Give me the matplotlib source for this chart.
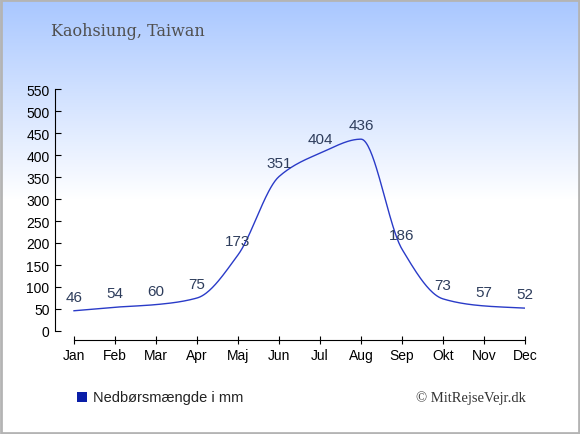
import numpy as np
import matplotlib
matplotlib.use("Agg")
import matplotlib.pyplot as plt

months = ["Jan", "Feb", "Mar", "Apr", "Maj", "Jun", "Jul", "Aug", "Sep", "Okt", "Nov", "Dec"]
rain = [46, 54, 60, 75, 173, 351, 404, 436, 186, 73, 57, 52]
y_ticks = [0, 50, 100, 150, 200, 250, 300, 350, 400, 450, 500, 550]

title = "Kaohsiung, Taiwan"
legend_label = "Nedbørsmængde i mm"
credit = "© MitRejseVejr.dk"


def smooth_curve(x, y, n=40):
    # monotone cubic hermite, only used to draw the line smoothly
    x = np.asarray(x, float)
    y = np.asarray(y, float)
    h = np.diff(x)
    d = np.diff(y) / h
    m = np.zeros_like(y)
    m[0], m[-1] = d[0], d[-1]
    for i in range(1, len(y) - 1):
        if d[i - 1] * d[i] > 0:
            m[i] = 2 / (1 / d[i - 1] + 1 / d[i])
    xs, ys = [], []
    for i in range(len(x) - 1):
        t = np.linspace(0, 1, n, endpoint=False)
        h00 = 2 * t**3 - 3 * t**2 + 1
        h10 = t**3 - 2 * t**2 + t
        h01 = -2 * t**3 + 3 * t**2
        h11 = t**3 - t**2
        xs.append(x[i] + t * h[i])
        ys.append(h00 * y[i] + h10 * h[i] * m[i] + h01 * y[i + 1] + h11 * h[i] * m[i + 1])
    xs.append([x[-1]])
    ys.append([y[-1]])
    return np.concatenate(xs), np.concatenate(ys)


W, H = 580, 435
fig = plt.figure(figsize=(W / 100, H / 100), dpi=100)

# background gradient, blue at the top fading to white around y=200px
bg = fig.add_axes([0, 0, 1, 1])
frac = np.clip(np.arange(H) / 200.0, 0, 1)
top = np.array([0.66, 0.78, 1.0])
grad = top[None, :] * (1 - frac[:, None]) + np.ones(3)[None, :] * frac[:, None]
img = np.repeat(grad[:, None, :], W, axis=1)
bg.imshow(img, aspect="auto", extent=[0, W, H, 0])
bg.set_xlim(0, W)
bg.set_ylim(H, 0)
bg.axis("off")
bg.add_patch(plt.Rectangle((1, 1), W - 2, H - 2, fill=False, edgecolor="#b4b4b4", lw=2))

# main axes, pixel geometry from the reference
left_px, right_px = 55, 525
top_px, bottom_px = 90, 341
ax = fig.add_axes([left_px / W, (H - bottom_px) / H, (right_px - left_px) / W, (bottom_px - top_px) / H])
ax.patch.set_alpha(0)

jan_px = 74
month_w = (right_px - jan_px) / 11
ax.set_xlim(-(jan_px - left_px) / month_w, 11)
px_per_unit = (332 - 90) / 550
ax.set_ylim(550 - (bottom_px - top_px) / px_per_unit, 550)

x = np.arange(len(months))
xs, ys = smooth_curve(x, rain)
ax.plot(xs, ys, color="#2a3bc8", lw=1)

for xi, v in zip(x, rain):
    ax.annotate(str(v), (xi, v), xytext=(0, 5), textcoords="offset points",
                ha="center", va="bottom", fontsize=11, color="#2e3d5c",
                family="Liberation Sans")

for s in ["top", "right"]:
    ax.spines[s].set_visible(False)
ax.spines["left"].set_bounds(0, 550)
ax.spines["bottom"].set_bounds(0, 11)
ax.set_yticks(y_ticks)
ax.set_xticks(x)
ax.set_xticklabels(months)
ax.tick_params(axis="y", direction="in", length=4, labelsize=10, pad=4)
ax.tick_params(axis="x", direction="inout", length=6, labelsize=10, pad=3)
for lab in ax.get_xticklabels() + ax.get_yticklabels():
    lab.set_family("Liberation Sans")

fig.text(51 / W, 1 - 31 / H, title, fontsize=11.5, color="#505050",
         family="DejaVu Serif", va="center", ha="left")

fig.patches.append(plt.Rectangle((77 / W, 1 - 403 / H), 10 / W, 10 / H,
                                 transform=fig.transFigure, facecolor="#0a1ea8",
                                 edgecolor="none"))
fig.text(93 / W, 1 - 398 / H, legend_label, fontsize=10.5, color="#222222",
         family="Liberation Sans", va="center", ha="left")
fig.text(526 / W, 1 - 398 / H, credit, fontsize=10.5, color="#333333",
         family="Liberation Serif", va="center", ha="right")

fig.savefig("out.png", dpi=100)
